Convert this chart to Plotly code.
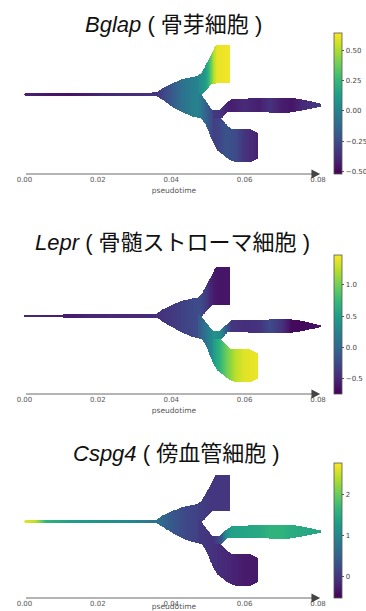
import numpy as np
import plotly.graph_objects as go

# ---------------- data ----------------
GENES = ["Bglap", "Lepr", "Cspg4"]
CELL_TYPES = ["骨芽細胞", "骨髄ストローマ細胞", "傍血管細胞"]
PT_TICKS = [0.0, 0.02, 0.04, 0.06, 0.08]

# colour ranges / colorbar ticks per gene
CRANGE_BGLAP = [-0.517, 0.64]
CRANGE_LEPR = [-0.75, 1.48]
CRANGE_CSPG4 = [-0.52, 2.77]
CTICKS_BGLAP = [-0.5, -0.25, 0.0, 0.25, 0.5]
CTICKS_LEPR = [-0.5, 0.0, 0.5, 1.0]
CTICKS_CSPG4 = [0, 1, 2]

# branch outlines: pseudotime, upper edge, lower edge (dendrogram position units)
ROOT_T = [0.0, 0.0005, 0.0206, 0.0342, 0.0361, 0.0377, 0.0405, 0.0432, 0.0459, 0.0478, 0.0486]
ROOT_UP = [0.9, 1.4, 1.6, 1.9, 2.2, 6.5, 11.5, 15.5, 17.5, 18.8, 19.0]
ROOT_LO = [-0.9, -1.4, -1.6, -1.9, -1.8, -5.5, -12.2, -17.5, -21.5, -23.2, -24.0]

TOP_T = [0.0473, 0.0484, 0.0511, 0.0522, 0.0560]
TOP_UP = [18.5, 22.0, 41.0, 49.5, 49.0]
TOP_LO = [2.0, -0.5, 10.5, 11.0, 11.5]

SEGB_T = [0.0473, 0.0484, 0.0495, 0.0506, 0.0514, 0.0535]
SEGB_UP = [2.0, -0.5, -6.0, -12.0, -15.0, -15.5]
SEGB_LO = [-22.5, -23.8, -30.0, -40.0, -47.0, -49.0]

LOW_T = [0.0514, 0.0527, 0.0537, 0.0555, 0.0563, 0.0576, 0.0615, 0.0636, 0.0639]
LOW_UP = [-16.0, -20.0, -23.8, -31.0, -33.5, -34.0, -34.0, -37.5, -38.0]
LOW_LO = [-47.0, -55.5, -58.3, -63.8, -65.5, -67.2, -67.5, -64.0, -63.5]

MID_T = [0.0514, 0.0533, 0.0537, 0.0555, 0.0565, 0.0587, 0.0700, 0.0724, 0.0751, 0.0778, 0.0811]
MID_UP = [-15.0, -15.5, -13.5, -7.5, -4.5, -4.2, -3.2, -3.2, -4.5, -6.5, -9.5]
MID_LO = [-23.0, -23.5, -23.8, -16.5, -16.5, -16.8, -17.8, -17.5, -16.0, -14.0, -11.5]

# expression knots along each branch
ROOT_VT = [0.0, 0.003, 0.006, 0.012, 0.018, 0.025, 0.032, 0.036, 0.040, 0.044, 0.0486]
TOP_VT = [0.0473, 0.0495, 0.0506, 0.0516, 0.0525, 0.0560]
SEGB_VT = [0.0473, 0.0495, 0.0514, 0.0535]
MID_VT = [0.0514, 0.0537, 0.0550, 0.0565, 0.0600, 0.0640, 0.0670, 0.0700, 0.0730, 0.0760, 0.0811]
LOW_VT = [0.0514, 0.0530, 0.0550, 0.0576, 0.0600, 0.0639]

BGLAP_ROOT = [-0.40, -0.42, -0.44, -0.46, -0.42, -0.38, -0.36, -0.34, -0.20, -0.06, 0.03]
BGLAP_TOP = [0.02, 0.12, 0.30, 0.50, 0.60, 0.62]
BGLAP_SEGB = [0.0, -0.15, -0.28, -0.33]
BGLAP_MID = [-0.32, -0.35, -0.40, -0.42, -0.38, -0.42, -0.35, -0.42, -0.45, -0.38, -0.30]
BGLAP_LOW = [-0.30, -0.28, -0.22, -0.25, -0.34, -0.42]

LEPR_ROOT = [-0.50, -0.52, -0.55, -0.58, -0.52, -0.50, -0.48, -0.45, -0.38, -0.30, -0.20]
LEPR_TOP = [-0.20, -0.35, -0.50, -0.58, -0.62, -0.62]
LEPR_SEGB = [-0.15, 0.10, 0.35, 0.45]
LEPR_MID = [0.40, 0.30, -0.10, -0.40, -0.45, -0.42, -0.25, -0.40, -0.70, -0.70, -0.62]
LEPR_LOW = [0.45, 0.65, 0.95, 1.25, 1.38, 1.42]

CSPG4_ROOT = [2.65, 2.45, 1.60, 1.35, 1.22, 1.10, 0.92, 0.70, 0.40, 0.20, 0.10]
CSPG4_TOP = [0.10, 0.05, 0.02, 0.0, 0.0, 0.0]
CSPG4_SEGB = [0.05, 0.0, -0.05, -0.05]
CSPG4_MID = [-0.05, 0.30, 1.10, 1.35, 1.40, 1.45, 1.60, 1.60, 1.50, 1.45, 1.40]
CSPG4_LOW = [-0.05, -0.10, -0.15, -0.22, -0.28, -0.30]

# ---------------- layout constants ----------------
W, H = 366, 611
X_RANGE = [-0.001, 0.0825]
Y_RANGE = [-79.5, 61.5]
X_DOM = [20.8 / W, 327.2 / W]
PANEL_PX = [(33, 174), (255, 394), (463, 598)]      # top, bottom in page px
TITLE_POS = [(173, 25), (172, 242), (176, 453)]
FONT_T = "Liberation Sans, Noto Sans CJK JP, sans-serif"
FONT_S = "DejaVu Sans, sans-serif"

xs = np.arange(X_RANGE[0], X_RANGE[1], 0.0001)
ys = np.arange(Y_RANGE[0], Y_RANGE[1] + 0.25, 0.5)


def raster(branches):
    Z = np.full((len(ys), len(xs)), np.nan)
    for bt, up, lo, vt, vals in branches:
        for j, t in enumerate(xs):
            if t < bt[0] or t > bt[-1]:
                continue
            u = np.interp(t, bt, up)
            l = np.interp(t, bt, lo)
            v = np.interp(t, vt, vals)
            m = (ys >= l) & (ys <= u)
            Z[m, j] = v
    return Z


def branches_for(root, top, segb, mid, low):
    return [
        (ROOT_T, ROOT_UP, ROOT_LO, ROOT_VT, root),
        (SEGB_T, SEGB_UP, SEGB_LO, SEGB_VT, segb),
        (TOP_T, TOP_UP, TOP_LO, TOP_VT, top),
        (LOW_T, LOW_UP, LOW_LO, LOW_VT, low),
        (MID_T, MID_UP, MID_LO, MID_VT, mid),
    ]


GENE_BRANCHES = [
    branches_for(BGLAP_ROOT, BGLAP_TOP, BGLAP_SEGB, BGLAP_MID, BGLAP_LOW),
    branches_for(LEPR_ROOT, LEPR_TOP, LEPR_SEGB, LEPR_MID, LEPR_LOW),
    branches_for(CSPG4_ROOT, CSPG4_TOP, CSPG4_SEGB, CSPG4_MID, CSPG4_LOW),
]
CRANGES = [CRANGE_BGLAP, CRANGE_LEPR, CRANGE_CSPG4]
CTICKS = [CTICKS_BGLAP, CTICKS_LEPR, CTICKS_CSPG4]
CFMT = [".2f", ".1f", "d"]

fig = go.Figure()
layout = dict(
    width=W, height=H, margin=dict(l=0, r=0, t=0, b=0, autoexpand=False),
    paper_bgcolor="white", plot_bgcolor="white", showlegend=False,
)
annotations = []

for i in range(3):
    top_px, bot_px = PANEL_PX[i]
    ydom = [1 - bot_px / H, 1 - top_px / H]
    sfx = "" if i == 0 else str(i + 1)
    Z = raster(GENE_BRANCHES[i])
    fig.add_trace(go.Heatmap(
        x=xs, y=ys, z=Z, colorscale="Viridis",
        zmin=CRANGES[i][0], zmax=CRANGES[i][1], zsmooth=False,
        xaxis="x" + sfx, yaxis="y" + sfx, hoverinfo="skip",
        colorbar=dict(
            x=334 / W, xanchor="left", y=(ydom[0] + ydom[1]) / 2, yanchor="middle",
            len=ydom[1] - ydom[0], lenmode="fraction", thickness=8,
            xpad=0, ypad=0,
            outlinewidth=0.8, outlinecolor="#555",
            ticks="outside", ticklen=2.5, tickwidth=0.8, tickcolor="#555",
            tickvals=CTICKS[i], tickformat=CFMT[i],
            tickfont=dict(size=7, color="#444", family=FONT_S),
        ),
    ))
    layout["xaxis" + sfx] = dict(
        domain=X_DOM, range=X_RANGE, anchor="y" + sfx, automargin=False,
        tickvals=PT_TICKS, tickformat=".2f", ticks="", showgrid=False,
        zeroline=False, showline=False,
        tickfont=dict(size=7, color="#555", family=FONT_S),
        title=dict(text="pseudotime", font=dict(size=7.5, color="#555", family=FONT_S), standoff=4),
    )
    layout["yaxis" + sfx] = dict(
        domain=ydom, range=Y_RANGE, anchor="x" + sfx, visible=False, automargin=False,
    )
    # axis arrow
    annotations.append(dict(
        x=0.0806, y=Y_RANGE[0], ax=0.0, ay=Y_RANGE[0],
        xref="x" + sfx, yref="y" + sfx, axref="x" + sfx, ayref="y" + sfx,
        showarrow=True, arrowhead=2, arrowsize=2.2, arrowwidth=0.8,
        arrowcolor="#444", text="",
    ))
    tx, ty = TITLE_POS[i]
    annotations.append(dict(
        x=tx / W, y=1 - ty / H, xref="paper", yref="paper",
        xanchor="center", yanchor="middle", showarrow=False,
        text="<i>%s</i> ( %s )" % (GENES[i], CELL_TYPES[i]),
        font=dict(size=22, color="#111", family=FONT_T),
    ))

layout["annotations"] = annotations
fig.update_layout(**layout)
fig.write_html(
    "out.html",
    config={"displayModeBar": False},
    post_script="document.body.style.margin='0';document.body.style.padding='0';",
)
